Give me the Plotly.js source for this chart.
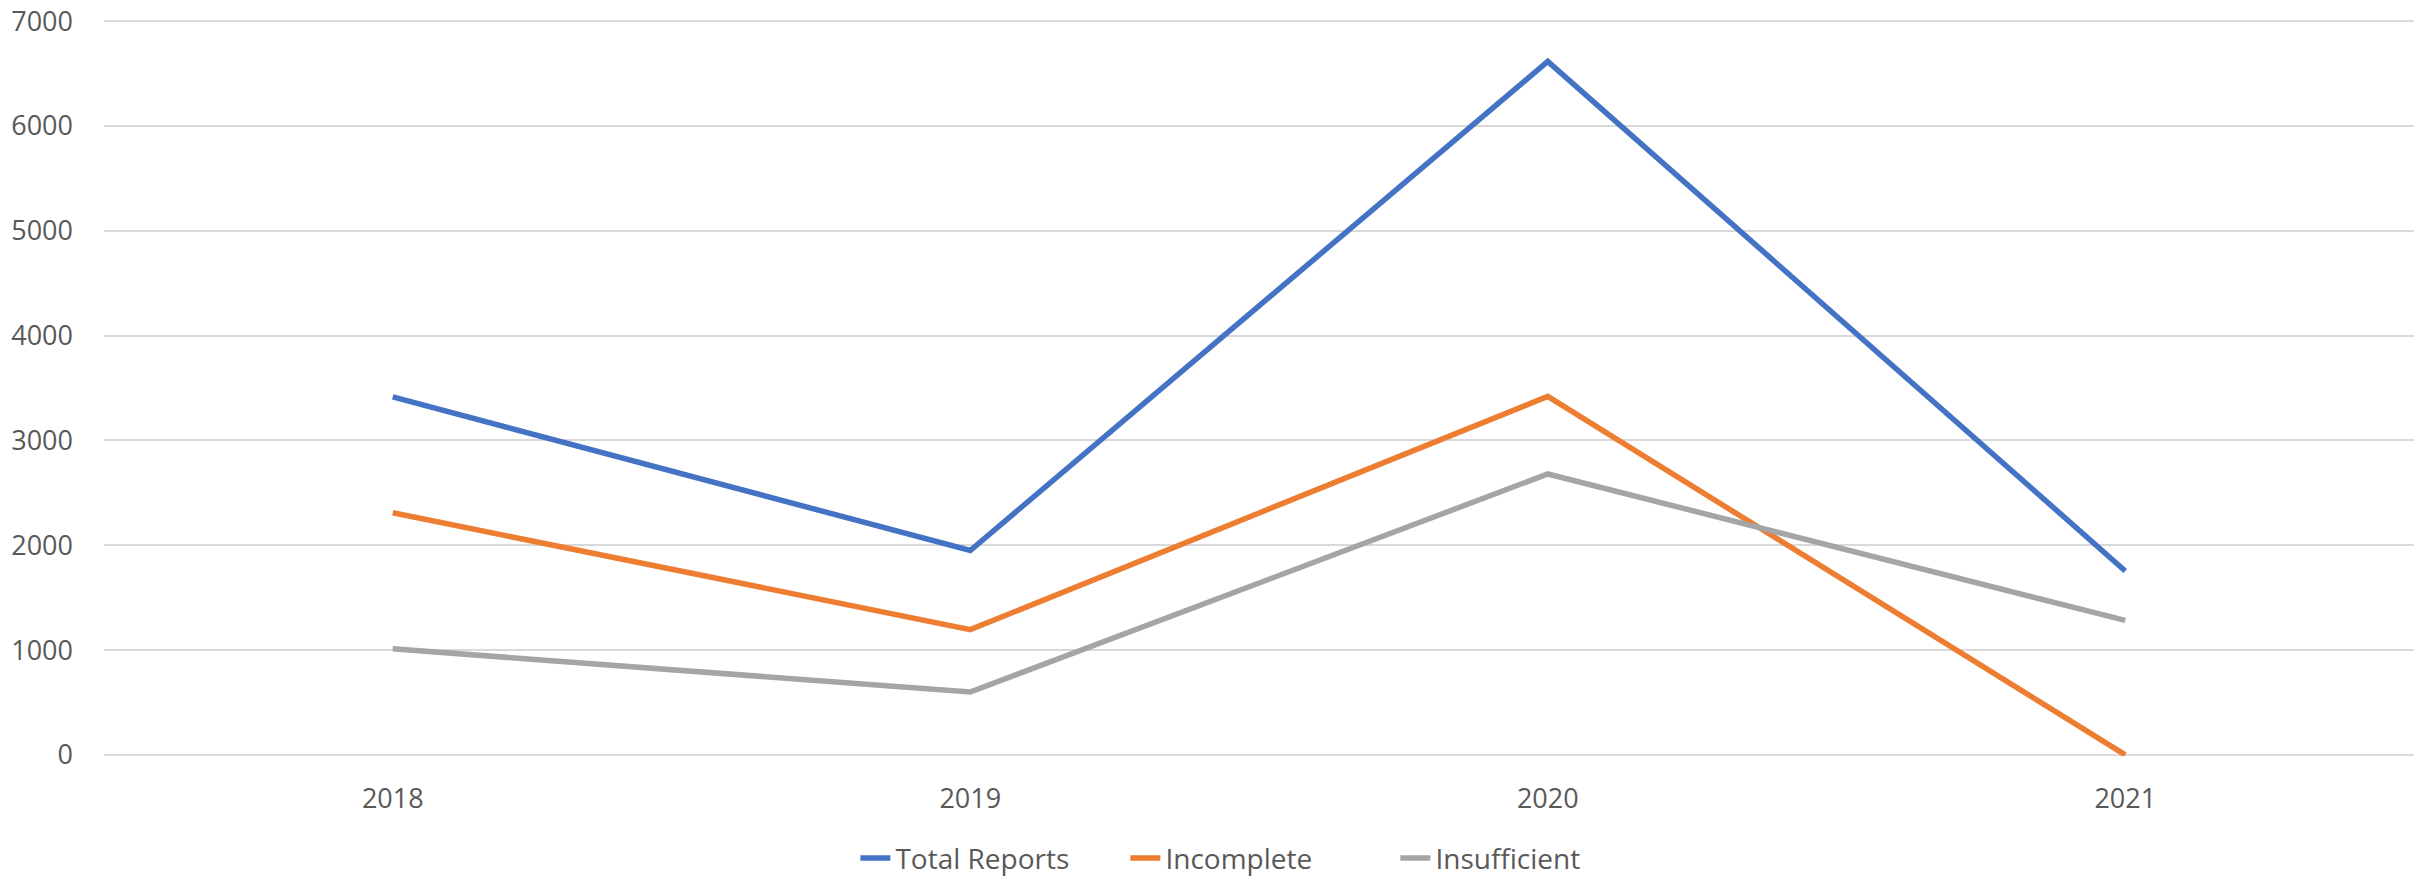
<!DOCTYPE html>
<html>
<head>
<meta charset="utf-8">
<script src="https://cdn.plot.ly/plotly-3.0.1.min.js"></script>
<style>html,body{margin:0;padding:0;background:#fff;}#chart{width:2433px;height:879px;}</style>
</head>
<body>
<div id="chart"></div>
<script>
const years = ['2018', '2019', '2020', '2021'];
const totalReports = [3415, 1950, 6615, 1755];
const incomplete = [2310, 1195, 3420, 0];
const insufficient = [1012, 600, 2680, 1283];
const yTicks = [0, 1000, 2000, 3000, 4000, 5000, 6000, 7000];

const font = {family: 'Open Sans, Liberation Sans, sans-serif', size: 27, color: '#595959'};
const legendFont = {family: 'Open Sans, Liberation Sans, sans-serif', size: 28, color: '#595959'};
const mk = (name, y, color) => ({
  type: 'scatter', mode: 'lines', name: name, x: years, y: y,
  line: {color: color, width: 5.5}
});
const data = [
  mk('Total Reports', totalReports, '#4472C4'),
  mk('Incomplete', incomplete, '#ED7D31'),
  mk('Insufficient', insufficient, '#A5A5A5')
];
const layout = {
  width: 2433, height: 879,
  margin: {l: 104, r: 19, t: 20, b: 123, autoexpand: false},
  paper_bgcolor: '#fff', plot_bgcolor: '#fff',
  font: font,
  showlegend: true,
  legend: {orientation: 'h', x: 0.5006, xanchor: 'center', y: -0.139, yanchor: 'middle',
           font: legendFont, itemwidth: 30, tracegroupgap: 0, entrywidth: 225, entrywidthmode: 'pixels'},
  xaxis: {type: 'category', range: [-0.5, 3.5], showgrid: false, zeroline: false,
          showline: false, ticks: '', ticklabelstandoff: 24, tickfont: font, fixedrange: true},
  yaxis: {range: [-10, 7010], tickvals: yTicks, showgrid: true, gridcolor: '#D9D9D9', gridwidth: 2,
          zeroline: false, showline: false, ticks: '', ticklabelstandoff: 30, tickfont: font, fixedrange: true}
};
Plotly.newPlot('chart', data, layout, {displayModeBar: false, staticPlot: true});
</script>
</body>
</html>
